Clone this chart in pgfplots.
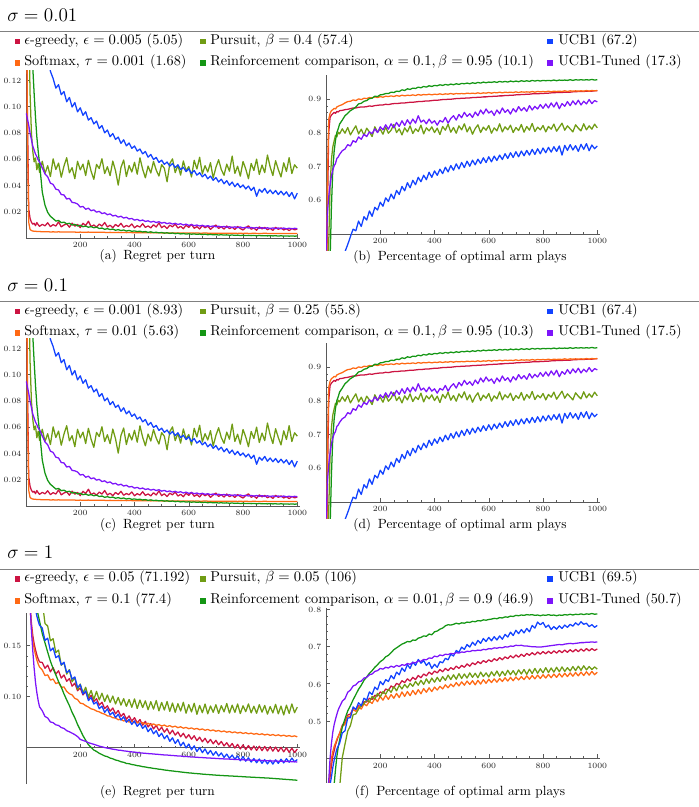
\documentclass[border=0pt]{standalone}
\usepackage{pgfplots}
\usepackage{pgfplotstable}
\pgfplotsset{compat=1.18}

\definecolor{egc}{RGB}{204,20,66}
\definecolor{smc}{RGB}{255,105,20}
\definecolor{puc}{RGB}{112,156,20}
\definecolor{rcc}{RGB}{20,150,20}
\definecolor{uac}{RGB}{18,66,255}
\definecolor{utc}{RGB}{125,20,250}

\pgfplotsset{
  mma/.style={
    scale only axis,
    width=205.5pt,
    axis x line=bottom, axis y line=left,
    axis line style={-, line width=0.5pt, color=black!65},
    xmin=0, xmax=1010,
    xtick={200,400,600,800,1000},
    minor x tick num=3,
    tick align=inside,
    major tick length=3pt, minor tick length=1.6pt,
    tick style={black!65, line width=0.4pt},
    ticklabel style={font=\fontsize{6.5}{7}\selectfont, color=black!85},
    xticklabel style={/pgf/number format/1000 sep={}},
    every axis plot/.append style={line width=0.95pt, line join=round, no marks},
  },
  regret/.style={
    ytick={0.02,0.04,0.06,0.08,0.10,0.12},
    minor y tick num=3,
    ymin=0, ymax=0.128, height=126pt,
    yticklabel style={/pgf/number format/.cd, fixed, fixed zerofill, precision=2},
  },
  optimal/.style={
    ytick={0.6,0.7,0.8,0.9},
    minor y tick num=4,
    ymin=0.452, ymax=0.972, height=131.25pt,
    axis x line shift=-12.1pt,
    yticklabel style={/pgf/number format/.cd, fixed, fixed zerofill, precision=1},
  },
}

% regret per turn, sigma = 0.01 / 0.1
\pgfplotstableread{
x eg sm pu rc ua ut
1 0.30 0.30 0.30 0.30 0.30 0.095
5 0.10 0.08 0.25 0.30 0.30 0.091
10 0.022 0.012 0.17 0.29 0.29 0.086
15 0.015 0.0065 0.11 0.26 0.28 0.080
20 0.012 0.0057 0.080 0.21 0.27 0.075
25 0.0105 0.0053 0.066 0.13 0.26 0.070
30 0.0112 0.0052 0.058 0.11 0.25 0.067
35 0.0094 0.0051 0.061 0.092 0.24 0.064
40 0.0118 0.0050 0.052 0.077 0.23 0.062
45 0.0101 0.0050 0.057 0.066 0.22 0.0595
50 0.0089 0.0049 0.050 0.057 0.21 0.058
60 0.0104 0.0048 0.0585 0.035 0.19 0.0535
70 0.0093 0.0047 0.0492 0.025 0.165 0.0488
80 0.0116 0.0048 0.0551 0.0195 0.142 0.0466
90 0.0087 0.0046 0.0468 0.0165 0.127 0.0418
100 0.0102 0.0047 0.0603 0.0148 0.1215 0.0408
110 0.0091 0.0046 0.0522 0.0129 0.1142 0.0372
120 0.0123 0.0047 0.0571 0.0134 0.1168 0.0366
130 0.0085 0.0046 0.0463 0.0117 0.1092 0.0331
140 0.0099 0.0046 0.0548 0.0121 0.1116 0.0328
150 0.0108 0.0045 0.0612 0.0108 0.1038 0.0297
160 0.0082 0.0046 0.0497 0.0112 0.1071 0.0302
170 0.0113 0.0045 0.0536 0.0099 0.0998 0.0271
180 0.0090 0.0045 0.0452 0.0104 0.1032 0.0268
190 0.0104 0.0044 0.0584 0.0092 0.0961 0.0259
200 0.0079 0.0045 0.0519 0.0097 0.0992 0.0236
210 0.0112 0.0044 0.0563 0.0086 0.0935 0.0241
220 0.0095 0.0044 0.0476 0.0091 0.0962 0.0219
230 0.0128 0.0045 0.0592 0.0082 0.0898 0.0227
240 0.0087 0.0043 0.0508 0.0087 0.0917 0.0208
250 0.0099 0.0044 0.0447 0.0078 0.0869 0.0214
260 0.0083 0.0043 0.0561 0.0083 0.0891 0.0197
270 0.0106 0.0043 0.0529 0.0072 0.0834 0.0203
280 0.0091 0.0044 0.0604 0.0076 0.0857 0.0186
290 0.0118 0.0043 0.0491 0.0066 0.0801 0.0192
300 0.0084 0.0042 0.0543 0.0071 0.0823 0.0177
310 0.0097 0.0043 0.0475 0.0064 0.0772 0.0184
320 0.0079 0.0042 0.0586 0.0068 0.0796 0.0168
330 0.0103 0.0042 0.0512 0.0059 0.0751 0.0173
340 0.0088 0.0043 0.0403 0.0064 0.0769 0.0159
350 0.0112 0.0041 0.0537 0.0057 0.0721 0.0166
360 0.0082 0.0042 0.0594 0.0061 0.0748 0.0152
370 0.0095 0.0041 0.0468 0.0053 0.0702 0.0158
380 0.0086 0.0042 0.0552 0.0058 0.0724 0.0145
390 0.0107 0.0041 0.0503 0.0051 0.0683 0.0149
400 0.0078 0.0040 0.0577 0.0054 0.0701 0.0136
410 0.0094 0.0041 0.0486 0.0049 0.0662 0.0142
420 0.0083 0.0040 0.0611 0.0052 0.0678 0.0131
430 0.0109 0.0041 0.0524 0.0046 0.0641 0.0137
440 0.0081 0.0040 0.0459 0.0049 0.0659 0.0126
450 0.0092 0.0040 0.0548 0.0043 0.0616 0.0131
460 0.0077 0.0039 0.0495 0.0047 0.0637 0.0121
470 0.0101 0.0040 0.0583 0.0041 0.0598 0.0127
480 0.0084 0.0039 0.0517 0.0044 0.0614 0.0118
490 0.0115 0.0040 0.0472 0.0039 0.0576 0.0124
500 0.0079 0.0039 0.0559 0.0042 0.0593 0.0113
510 0.0093 0.0039 0.0531 0.0037 0.0561 0.0119
520 0.0072 0.0038 0.0428 0.0040 0.0579 0.0109
530 0.0098 0.0039 0.0566 0.0035 0.0548 0.0115
540 0.0085 0.0038 0.0603 0.0038 0.0567 0.0106
550 0.0106 0.0039 0.0498 0.0033 0.0536 0.0112
560 0.0076 0.0038 0.0554 0.0036 0.0558 0.0103
570 0.0089 0.0038 0.0479 0.0031 0.0521 0.0109
580 0.0071 0.0038 0.0587 0.0034 0.0539 0.0099
590 0.0097 0.0039 0.0512 0.0030 0.0506 0.0106
600 0.0081 0.0037 0.0545 0.0032 0.0527 0.0096
610 0.0104 0.0038 0.0465 0.0029 0.0492 0.0102
620 0.0074 0.0037 0.0592 0.0031 0.0514 0.0094
630 0.0087 0.0038 0.0526 0.0028 0.0479 0.0099
640 0.0069 0.0037 0.0615 0.0030 0.0498 0.0091
650 0.0095 0.0037 0.0488 0.0026 0.0466 0.0097
660 0.0078 0.0038 0.0551 0.0029 0.0486 0.0089
670 0.0091 0.0037 0.0503 0.0025 0.0451 0.0094
680 0.0066 0.0037 0.0574 0.0028 0.0472 0.0087
690 0.0084 0.0036 0.0457 0.0024 0.0439 0.0092
700 0.0099 0.0037 0.0538 0.0026 0.0461 0.0085
710 0.0073 0.0036 0.0596 0.0023 0.0427 0.0090
720 0.0086 0.0037 0.0521 0.0025 0.0448 0.0083
730 0.0068 0.0036 0.0478 0.0022 0.0413 0.0088
740 0.0092 0.0036 0.0563 0.0024 0.0437 0.0082
750 0.0071 0.0037 0.0509 0.0021 0.0402 0.0086
760 0.0083 0.0036 0.0624 0.0023 0.0426 0.0080
770 0.0065 0.0036 0.0492 0.0020 0.0391 0.0085
780 0.0088 0.0035 0.0547 0.0022 0.0416 0.0079
790 0.0072 0.0036 0.0471 0.0019 0.0385 0.0084
800 0.0061 0.0035 0.0583 0.0021 0.0404 0.0077
810 0.0079 0.0036 0.0526 0.0019 0.0374 0.0082
820 0.0093 0.0035 0.0452 0.0020 0.0396 0.0076
830 0.0067 0.0035 0.0568 0.0018 0.0362 0.0081
840 0.0076 0.0036 0.0515 0.0020 0.0387 0.0075
850 0.0059 0.0035 0.0601 0.0017 0.0318 0.0080
860 0.0085 0.0035 0.0484 0.0019 0.0371 0.0074
870 0.0069 0.0035 0.0556 0.0017 0.0349 0.0079
880 0.0081 0.0036 0.0498 0.0018 0.0378 0.0073
890 0.0063 0.0035 0.0632 0.0016 0.0341 0.0078
900 0.0074 0.0035 0.0541 0.0018 0.0366 0.0072
910 0.0058 0.0034 0.0476 0.0016 0.0337 0.0077
920 0.0082 0.0035 0.0589 0.0017 0.0362 0.0072
930 0.0066 0.0035 0.0522 0.0015 0.0331 0.0076
940 0.0077 0.0034 0.0465 0.0017 0.0357 0.0071
950 0.0061 0.0035 0.0573 0.0015 0.0328 0.0076
960 0.0071 0.0034 0.0507 0.0016 0.0352 0.0070
970 0.0056 0.0035 0.0612 0.0014 0.0316 0.0075
980 0.0073 0.0034 0.0491 0.0016 0.0347 0.0070
990 0.0062 0.0035 0.0558 0.0014 0.0298 0.0074
1000 0.0068 0.0034 0.0532 0.0015 0.0342 0.0071
}\tabA

% share of optimal arm plays, sigma = 0.01 / 0.1
\pgfplotstableread{
x eg sm pu rc ua ut
1 0.20 0.20 0.20 0.10 0.20 0.45
5 0.55 0.65 0.30 0.15 0.25 0.56
10 0.80 0.84 0.47 0.25 0.28 0.61
15 0.846 0.858 0.64 0.42 0.30 0.645
20 0.853 0.866 0.72 0.58 0.32 0.672
25 0.857 0.869 0.758 0.69 0.33 0.689
30 0.861 0.873 0.776 0.745 0.35 0.702
35 0.858 0.871 0.793 0.778 0.36 0.709
40 0.864 0.877 0.788 0.801 0.38 0.724
45 0.862 0.879 0.802 0.812 0.39 0.728
50 0.866 0.881 0.797 0.826 0.41 0.736
60 0.867 0.884 0.812 0.838 0.431 0.747
70 0.869 0.889 0.799 0.851 0.447 0.752
80 0.870 0.893 0.816 0.858 0.468 0.765
90 0.872 0.894 0.794 0.866 0.492 0.761
100 0.874 0.898 0.808 0.871 0.514 0.777
110 0.874 0.896 0.821 0.877 0.509 0.772
120 0.876 0.901 0.797 0.886 0.538 0.788
130 0.877 0.899 0.811 0.888 0.522 0.781
140 0.877 0.903 0.793 0.894 0.551 0.796
150 0.878 0.902 0.814 0.896 0.541 0.789
160 0.880 0.905 0.803 0.902 0.568 0.803
170 0.879 0.904 0.789 0.903 0.552 0.798
180 0.881 0.907 0.818 0.909 0.579 0.812
190 0.882 0.905 0.802 0.908 0.571 0.801
200 0.883 0.908 0.811 0.913 0.594 0.818
210 0.883 0.906 0.796 0.914 0.582 0.809
220 0.885 0.909 0.817 0.917 0.607 0.824
230 0.884 0.908 0.799 0.917 0.596 0.811
240 0.886 0.910 0.808 0.921 0.618 0.827
250 0.887 0.908 0.825 0.920 0.604 0.815
260 0.887 0.911 0.801 0.924 0.629 0.831
270 0.888 0.909 0.812 0.923 0.617 0.819
280 0.889 0.912 0.794 0.928 0.641 0.836
290 0.889 0.910 0.815 0.926 0.628 0.822
300 0.890 0.912 0.803 0.931 0.652 0.839
310 0.891 0.911 0.821 0.929 0.637 0.826
320 0.891 0.913 0.798 0.933 0.659 0.841
330 0.892 0.911 0.812 0.932 0.646 0.829
340 0.893 0.914 0.804 0.936 0.668 0.851
350 0.893 0.912 0.823 0.934 0.655 0.832
360 0.894 0.914 0.797 0.938 0.674 0.838
370 0.895 0.913 0.815 0.936 0.661 0.827
380 0.895 0.915 0.806 0.940 0.683 0.841
390 0.896 0.913 0.818 0.938 0.668 0.829
400 0.897 0.915 0.801 0.941 0.687 0.836
410 0.897 0.914 0.814 0.940 0.674 0.823
420 0.898 0.916 0.795 0.943 0.692 0.837
430 0.899 0.914 0.819 0.941 0.679 0.832
440 0.899 0.916 0.808 0.944 0.698 0.846
450 0.900 0.915 0.826 0.942 0.684 0.829
460 0.900 0.917 0.802 0.945 0.703 0.843
470 0.901 0.915 0.816 0.943 0.689 0.851
480 0.902 0.917 0.799 0.946 0.708 0.838
490 0.902 0.916 0.821 0.944 0.693 0.855
500 0.903 0.917 0.809 0.947 0.712 0.845
510 0.903 0.916 0.827 0.946 0.697 0.861
520 0.904 0.918 0.803 0.948 0.716 0.849
530 0.904 0.917 0.818 0.946 0.701 0.857
540 0.905 0.918 0.796 0.949 0.719 0.846
550 0.905 0.917 0.813 0.947 0.705 0.862
560 0.906 0.919 0.824 0.950 0.722 0.851
570 0.906 0.917 0.801 0.948 0.709 0.868
580 0.907 0.919 0.817 0.951 0.726 0.856
590 0.907 0.918 0.808 0.949 0.712 0.871
600 0.908 0.920 0.822 0.951 0.729 0.859
610 0.908 0.918 0.799 0.950 0.714 0.865
620 0.909 0.920 0.815 0.952 0.731 0.852
630 0.909 0.919 0.806 0.950 0.718 0.868
640 0.910 0.921 0.827 0.953 0.734 0.857
650 0.910 0.919 0.803 0.951 0.721 0.874
660 0.911 0.921 0.818 0.953 0.738 0.861
670 0.911 0.920 0.809 0.951 0.724 0.869
680 0.912 0.921 0.823 0.954 0.741 0.856
690 0.912 0.920 0.801 0.952 0.727 0.872
700 0.913 0.922 0.816 0.954 0.744 0.862
710 0.913 0.920 0.807 0.952 0.729 0.878
720 0.914 0.922 0.825 0.955 0.746 0.866
730 0.914 0.921 0.802 0.953 0.732 0.875
740 0.915 0.922 0.819 0.955 0.748 0.864
750 0.915 0.921 0.808 0.953 0.734 0.881
760 0.916 0.923 0.828 0.956 0.751 0.868
770 0.916 0.921 0.804 0.954 0.736 0.879
780 0.916 0.923 0.817 0.956 0.753 0.871
790 0.917 0.922 0.809 0.954 0.738 0.884
800 0.917 0.923 0.822 0.956 0.755 0.873
810 0.918 0.922 0.803 0.955 0.741 0.886
820 0.918 0.924 0.819 0.956 0.757 0.874
830 0.919 0.922 0.811 0.955 0.743 0.889
840 0.919 0.924 0.826 0.957 0.759 0.877
850 0.920 0.923 0.805 0.955 0.745 0.891
860 0.920 0.924 0.817 0.957 0.761 0.872
870 0.920 0.923 0.829 0.956 0.734 0.887
880 0.921 0.925 0.808 0.957 0.763 0.879
890 0.921 0.923 0.821 0.956 0.748 0.893
900 0.921 0.925 0.812 0.958 0.765 0.881
910 0.922 0.924 0.803 0.956 0.749 0.895
920 0.922 0.925 0.824 0.958 0.762 0.884
930 0.923 0.924 0.814 0.957 0.745 0.897
940 0.923 0.925 0.806 0.958 0.766 0.883
950 0.923 0.924 0.827 0.957 0.751 0.894
960 0.924 0.926 0.809 0.958 0.768 0.886
970 0.924 0.924 0.821 0.957 0.747 0.899
980 0.924 0.926 0.811 0.959 0.764 0.887
990 0.925 0.925 0.826 0.957 0.753 0.896
1000 0.925 0.926 0.815 0.958 0.761 0.892
}\tabB

% regret per turn, sigma = 1
\pgfplotstableread{
x eg sm pu rc ua ut
1 0.40 0.40 0.40 0.40 0.40 0.40
5 0.30 0.30 0.36 0.36 0.34 0.30
10 0.23 0.23 0.33 0.31 0.30 0.23
15 0.19 0.188 0.30 0.27 0.26 0.19
20 0.172 0.168 0.28 0.245 0.23 0.165
25 0.160 0.155 0.265 0.225 0.21 0.145
30 0.152 0.147 0.25 0.21 0.195 0.128
35 0.146 0.141 0.237 0.195 0.186 0.114
40 0.141 0.136 0.225 0.186 0.179 0.104
45 0.137 0.132 0.214 0.180 0.174 0.096
50 0.134 0.129 0.205 0.174 0.170 0.090
60 0.1335 0.1262 0.1934 0.1617 0.1672 0.0862
70 0.1278 0.1207 0.1718 0.1528 0.1551 0.0806
80 0.1309 0.1214 0.1692 0.1436 0.1574 0.0791
90 0.1243 0.1162 0.1547 0.1348 0.1449 0.0752
100 0.1286 0.1173 0.1568 0.1275 0.1478 0.0745
110 0.1221 0.1128 0.1432 0.1213 0.1382 0.0724
120 0.1254 0.1139 0.1457 0.1148 0.1401 0.0718
130 0.1182 0.1091 0.1308 0.1094 0.1312 0.0697
140 0.1213 0.1096 0.1334 0.1027 0.1338 0.0689
150 0.1151 0.1052 0.1221 0.0968 0.1236 0.0667
160 0.1177 0.1029 0.1265 0.0912 0.1259 0.0656
170 0.1103 0.1017 0.1146 0.0846 0.1172 0.0642
180 0.1132 0.0983 0.1187 0.0793 0.1194 0.0628
190 0.1058 0.0972 0.1069 0.0728 0.1091 0.0609
200 0.1084 0.0936 0.1124 0.0674 0.1118 0.0581
210 0.1017 0.0931 0.1038 0.0618 0.1026 0.0571
220 0.1049 0.0912 0.1092 0.0573 0.1057 0.0562
230 0.0978 0.0898 0.0997 0.0529 0.0962 0.0549
240 0.1013 0.0881 0.1061 0.0502 0.0991 0.0541
250 0.0952 0.0874 0.0973 0.0477 0.0928 0.0533
260 0.0981 0.0859 0.1052 0.0463 0.0949 0.0524
270 0.0917 0.0851 0.0968 0.0445 0.0882 0.0515
280 0.0946 0.0837 0.1034 0.0432 0.0907 0.0509
290 0.0883 0.0829 0.0952 0.0419 0.0846 0.0501
300 0.0911 0.0812 0.1017 0.0412 0.0881 0.0496
310 0.0857 0.0809 0.0944 0.0398 0.0821 0.0491
320 0.0889 0.0793 0.1006 0.0391 0.0847 0.0485
330 0.0832 0.0791 0.0928 0.0379 0.0794 0.0482
340 0.0864 0.0774 0.0993 0.0373 0.0828 0.0476
350 0.0808 0.0779 0.0917 0.0362 0.0771 0.0474
360 0.0836 0.0762 0.0981 0.0357 0.0803 0.0469
370 0.0779 0.0768 0.0905 0.0346 0.0749 0.0466
380 0.0812 0.0751 0.0972 0.0343 0.0779 0.0462
390 0.0761 0.0759 0.0896 0.0335 0.0728 0.0459
400 0.0794 0.0744 0.0978 0.0331 0.0763 0.0456
410 0.0742 0.0751 0.0884 0.0324 0.0709 0.0453
420 0.0776 0.0738 0.0967 0.0321 0.0741 0.0449
430 0.0721 0.0746 0.0893 0.0314 0.0689 0.0447
440 0.0758 0.0731 0.0959 0.0311 0.0718 0.0445
450 0.0703 0.0739 0.0872 0.0305 0.0657 0.0442
460 0.0737 0.0724 0.0951 0.0302 0.0691 0.0441
470 0.0684 0.0733 0.0878 0.0297 0.0636 0.0438
480 0.0719 0.0718 0.0962 0.0294 0.0667 0.0436
490 0.0668 0.0727 0.0861 0.0289 0.0609 0.0434
500 0.0701 0.0712 0.0944 0.0287 0.0642 0.0431
510 0.0652 0.0722 0.0869 0.0281 0.0587 0.0429
520 0.0686 0.0707 0.0953 0.0279 0.0621 0.0428
530 0.0634 0.0716 0.0856 0.0274 0.0562 0.0425
540 0.0671 0.0702 0.0938 0.0272 0.0597 0.0424
550 0.0623 0.0711 0.0847 0.0268 0.0541 0.0421
560 0.0654 0.0696 0.0931 0.0266 0.0579 0.0419
570 0.0607 0.0705 0.0859 0.0262 0.0517 0.0418
580 0.0641 0.0691 0.0945 0.0259 0.0553 0.0415
590 0.0594 0.0699 0.0838 0.0256 0.0498 0.0414
600 0.0628 0.0686 0.0922 0.0253 0.0536 0.0411
610 0.0583 0.0694 0.0851 0.0251 0.0479 0.0409
620 0.0617 0.0681 0.0936 0.0248 0.0518 0.0408
630 0.0569 0.0689 0.0827 0.0246 0.0462 0.0406
640 0.0603 0.0676 0.0914 0.0244 0.0502 0.0404
650 0.0558 0.0684 0.0843 0.0241 0.0451 0.0403
660 0.0592 0.0671 0.0928 0.0239 0.0488 0.0401
670 0.0547 0.0679 0.0832 0.0237 0.0437 0.0399
680 0.0581 0.0666 0.0909 0.0235 0.0473 0.0398
690 0.0538 0.0674 0.0847 0.0233 0.0426 0.0396
700 0.0572 0.0661 0.0921 0.0231 0.0461 0.0395
710 0.0529 0.0669 0.0836 0.0229 0.0418 0.0393
720 0.0561 0.0656 0.0912 0.0228 0.0449 0.0392
730 0.0517 0.0664 0.0851 0.0226 0.0405 0.0390
740 0.0549 0.0652 0.0933 0.0225 0.0437 0.0389
750 0.0508 0.0659 0.0839 0.0223 0.0396 0.0388
760 0.0541 0.0647 0.0917 0.0222 0.0428 0.0386
770 0.0496 0.0655 0.0846 0.0220 0.0387 0.0385
780 0.0533 0.0643 0.0928 0.0219 0.0419 0.0384
790 0.0488 0.0651 0.0834 0.0217 0.0372 0.0382
800 0.0527 0.0639 0.0911 0.0216 0.0413 0.0381
810 0.0482 0.0647 0.0853 0.0214 0.0368 0.0380
820 0.0521 0.0636 0.0929 0.0213 0.0401 0.0379
830 0.0478 0.0643 0.0841 0.0211 0.0359 0.0378
840 0.0516 0.0632 0.0906 0.0210 0.0394 0.0377
850 0.0473 0.0639 0.0837 0.0208 0.0352 0.0376
860 0.0514 0.0628 0.0922 0.0207 0.0389 0.0375
870 0.0471 0.0636 0.0848 0.0205 0.0347 0.0374
880 0.0512 0.0625 0.0914 0.0204 0.0383 0.0373
890 0.0468 0.0632 0.0829 0.0203 0.0341 0.0372
900 0.0509 0.0621 0.0903 0.0201 0.0378 0.0371
910 0.0466 0.0629 0.0841 0.0199 0.0339 0.0370
920 0.0506 0.0618 0.0925 0.0197 0.0381 0.0369
930 0.0462 0.0626 0.0832 0.0195 0.0346 0.0368
940 0.0503 0.0615 0.0908 0.0193 0.0387 0.0367
950 0.0459 0.0623 0.0821 0.0191 0.0351 0.0366
960 0.0499 0.0612 0.0917 0.0189 0.0392 0.0365
970 0.0455 0.0619 0.0836 0.0187 0.0357 0.0364
980 0.0496 0.0609 0.0929 0.0185 0.0398 0.0363
990 0.0452 0.0616 0.0843 0.0183 0.0362 0.0362
1000 0.0487 0.0606 0.0898 0.0181 0.0384 0.0360
}\tabE

% share of optimal arm plays, sigma = 1
\pgfplotstableread{
x eg sm pu rc ua ut
1 0.20 0.20 0.20 0.10 0.20 0.28
5 0.25 0.27 0.20 0.12 0.23 0.30
10 0.32 0.33 0.22 0.15 0.28 0.34
15 0.35 0.37 0.24 0.18 0.33 0.40
20 0.38 0.40 0.25 0.22 0.35 0.44
25 0.405 0.418 0.26 0.28 0.375 0.47
30 0.42 0.432 0.27 0.33 0.395 0.49
35 0.436 0.441 0.275 0.37 0.41 0.505
40 0.447 0.452 0.28 0.405 0.425 0.518
45 0.458 0.459 0.30 0.43 0.433 0.530
50 0.467 0.466 0.32 0.449 0.44 0.538
60 0.489 0.486 0.402 0.483 0.468 0.553
70 0.497 0.491 0.438 0.506 0.474 0.560
80 0.516 0.512 0.473 0.527 0.508 0.577
90 0.519 0.513 0.488 0.541 0.509 0.583
100 0.534 0.531 0.517 0.557 0.538 0.594
110 0.532 0.526 0.519 0.571 0.531 0.597
120 0.541 0.538 0.532 0.585 0.549 0.605
130 0.539 0.532 0.541 0.596 0.541 0.607
140 0.552 0.546 0.546 0.609 0.561 0.615
150 0.551 0.541 0.557 0.618 0.556 0.617
160 0.561 0.553 0.551 0.628 0.578 0.624
170 0.558 0.547 0.566 0.635 0.571 0.626
180 0.569 0.561 0.559 0.644 0.591 0.633
190 0.567 0.552 0.574 0.651 0.584 0.635
200 0.578 0.566 0.565 0.659 0.606 0.641
210 0.574 0.556 0.579 0.664 0.597 0.639
220 0.586 0.569 0.572 0.672 0.611 0.644
230 0.582 0.558 0.585 0.676 0.606 0.642
240 0.594 0.571 0.577 0.683 0.622 0.647
250 0.589 0.561 0.592 0.691 0.613 0.644
260 0.601 0.574 0.581 0.696 0.631 0.649
270 0.597 0.563 0.596 0.701 0.624 0.646
280 0.608 0.578 0.586 0.706 0.642 0.651
290 0.603 0.566 0.598 0.709 0.633 0.649
300 0.613 0.579 0.589 0.713 0.651 0.654
310 0.607 0.568 0.601 0.712 0.641 0.652
320 0.617 0.582 0.593 0.717 0.658 0.657
330 0.611 0.571 0.606 0.716 0.649 0.656
340 0.622 0.584 0.596 0.722 0.665 0.661
350 0.616 0.573 0.609 0.724 0.655 0.660
360 0.626 0.587 0.598 0.728 0.662 0.665
370 0.621 0.577 0.613 0.727 0.649 0.664
380 0.631 0.589 0.601 0.733 0.657 0.669
390 0.625 0.579 0.615 0.731 0.641 0.668
400 0.634 0.591 0.604 0.739 0.652 0.674
410 0.629 0.583 0.617 0.741 0.644 0.672
420 0.638 0.593 0.606 0.746 0.659 0.677
430 0.632 0.586 0.619 0.749 0.656 0.675
440 0.641 0.597 0.609 0.755 0.668 0.679
450 0.635 0.589 0.623 0.758 0.664 0.678
460 0.643 0.599 0.611 0.757 0.679 0.681
470 0.638 0.592 0.624 0.759 0.674 0.680
480 0.647 0.603 0.612 0.762 0.689 0.683
490 0.641 0.594 0.627 0.760 0.684 0.682
500 0.649 0.605 0.614 0.763 0.698 0.685
510 0.644 0.596 0.626 0.762 0.692 0.684
520 0.653 0.607 0.615 0.765 0.705 0.687
530 0.647 0.598 0.629 0.764 0.698 0.686
540 0.656 0.608 0.617 0.767 0.711 0.689
550 0.651 0.597 0.628 0.766 0.703 0.688
560 0.659 0.609 0.616 0.769 0.716 0.690
570 0.654 0.599 0.631 0.768 0.708 0.689
580 0.662 0.611 0.619 0.771 0.721 0.692
590 0.657 0.601 0.629 0.770 0.713 0.691
600 0.664 0.612 0.618 0.772 0.724 0.694
610 0.659 0.603 0.632 0.773 0.715 0.693
620 0.667 0.613 0.621 0.775 0.726 0.696
630 0.662 0.604 0.634 0.774 0.717 0.695
640 0.670 0.614 0.620 0.777 0.728 0.697
650 0.664 0.606 0.633 0.776 0.719 0.696
660 0.672 0.616 0.622 0.779 0.732 0.699
670 0.667 0.607 0.636 0.778 0.725 0.698
680 0.675 0.617 0.624 0.781 0.738 0.701
690 0.669 0.608 0.635 0.780 0.729 0.700
700 0.677 0.618 0.623 0.783 0.743 0.703
710 0.671 0.610 0.637 0.782 0.734 0.702
720 0.679 0.619 0.626 0.784 0.745 0.703
730 0.673 0.611 0.638 0.783 0.736 0.701
740 0.681 0.621 0.625 0.785 0.748 0.701
750 0.676 0.612 0.639 0.784 0.739 0.700
760 0.683 0.622 0.627 0.785 0.756 0.699
770 0.677 0.613 0.641 0.783 0.749 0.699
780 0.685 0.623 0.628 0.784 0.765 0.698
790 0.679 0.614 0.640 0.782 0.758 0.698
800 0.686 0.624 0.629 0.784 0.764 0.699
810 0.680 0.615 0.643 0.783 0.751 0.700
820 0.687 0.625 0.630 0.785 0.757 0.701
830 0.681 0.616 0.642 0.783 0.745 0.702
840 0.688 0.626 0.631 0.784 0.753 0.703
850 0.682 0.617 0.644 0.782 0.746 0.704
860 0.689 0.627 0.632 0.784 0.755 0.705
870 0.683 0.618 0.645 0.783 0.748 0.704
880 0.690 0.628 0.633 0.785 0.757 0.706
890 0.684 0.619 0.643 0.784 0.751 0.707
900 0.691 0.629 0.634 0.786 0.759 0.708
910 0.685 0.620 0.646 0.784 0.754 0.707
920 0.692 0.630 0.635 0.786 0.763 0.708
930 0.686 0.621 0.647 0.785 0.757 0.709
940 0.693 0.631 0.636 0.787 0.766 0.710
950 0.687 0.622 0.648 0.785 0.759 0.710
960 0.694 0.632 0.637 0.787 0.762 0.711
970 0.688 0.623 0.646 0.786 0.753 0.711
980 0.694 0.633 0.638 0.788 0.758 0.712
990 0.689 0.624 0.645 0.786 0.751 0.711
1000 0.693 0.631 0.639 0.787 0.756 0.712
}\tabF

% section heading: title, rule and the six-entry key
\newcommand\KeyFont{\fontsize{10.7}{13}\selectfont}
\newcommand\SectionHead[7]{%
  \node[anchor=base west, inner sep=0pt] at (5.25pt,-15.75pt) {\Large$\sigma = #1$};
  \draw[black!50, line width=0.8pt] (0pt,-23.5pt) -- (524.25pt,-23.5pt);
  \fill[egc] (11pt,-33.3pt) rectangle ++(4.3pt,4.3pt);
  \node[anchor=base west, inner sep=0pt] at (18pt,-33pt) {\KeyFont #2};
  \fill[smc] (11pt,-49.4pt) rectangle ++(4.3pt,4.3pt);
  \node[anchor=base west, inner sep=0pt] at (18pt,-49.1pt) {\KeyFont #3};
  \fill[puc] (150pt,-33.3pt) rectangle ++(4.3pt,4.3pt);
  \node[anchor=base west, inner sep=0pt] at (157.5pt,-33pt) {\KeyFont #4};
  \fill[rcc] (150pt,-49.4pt) rectangle ++(4.3pt,4.3pt);
  \node[anchor=base west, inner sep=0pt] at (157.5pt,-49.1pt) {\KeyFont #5};
  \fill[uac] (410.25pt,-33.3pt) rectangle ++(4.3pt,4.3pt);
  \node[anchor=base west, inner sep=0pt] at (418.5pt,-33pt) {\KeyFont #6};
  \fill[utc] (410.25pt,-49.4pt) rectangle ++(4.3pt,4.3pt);
  \node[anchor=base west, inner sep=0pt] at (418.5pt,-49.1pt) {\KeyFont #7};
}

\newcommand\AllSeries[1]{%
  \addplot[egc] table[x=x,y=eg]{#1};
  \addplot[smc] table[x=x,y=sm]{#1};
  \addplot[puc] table[x=x,y=pu]{#1};
  \addplot[rcc] table[x=x,y=rc]{#1};
  \addplot[uac] table[x=x,y=ua]{#1};
  \addplot[utc] table[x=x,y=ut]{#1};
}

\begin{document}
\begin{tikzpicture}
\useasboundingbox (0,0) rectangle (524.25pt,-605.25pt);

% ---------- sigma = 0.01 ----------
\SectionHead{0.01}%
  {$\epsilon$-greedy, $\epsilon = 0.005$ (5.05)}%
  {Softmax, $\tau = 0.001$ (1.68)}%
  {Pursuit, $\beta = 0.4$ (57.4)}%
  {Reinforcement comparison, $\alpha = 0.1, \beta = 0.95$ (10.1)}%
  {UCB1 (67.2)}%
  {UCB1-Tuned (17.3)}
\begin{axis}[mma, regret, at={(19.5pt,-178.5pt)}, anchor=south west]
  \AllSeries{\tabA}
\end{axis}
\begin{axis}[mma, optimal, at={(244.5pt,-187.5pt)}, anchor=south west]
  \AllSeries{\tabB}
\end{axis}
\node[anchor=base, inner sep=0pt] at (118.1pt,-194.6pt) {(a)\enspace Regret per turn};
\node[anchor=base, inner sep=0pt] at (345pt,-195pt) {(b)\enspace Percentage of optimal arm plays};

% ---------- sigma = 0.1 ----------
\begin{scope}[yshift=-202.5pt]
\SectionHead{0.1}%
  {$\epsilon$-greedy, $\epsilon = 0.001$ (8.93)}%
  {Softmax, $\tau = 0.01$ (5.63)}%
  {Pursuit, $\beta = 0.25$ (55.8)}%
  {Reinforcement comparison, $\alpha = 0.1, \beta = 0.95$ (10.3)}%
  {UCB1 (67.4)}%
  {UCB1-Tuned (17.5)}
\end{scope}
\begin{axis}[mma, regret, at={(19.5pt,-379.5pt)}, anchor=south west]
  \AllSeries{\tabA}
\end{axis}
\begin{axis}[mma, optimal, at={(244.5pt,-388.5pt)}, anchor=south west]
  \AllSeries{\tabB}
\end{axis}
\node[anchor=base, inner sep=0pt] at (118.1pt,-396.1pt) {(c)\enspace Regret per turn};
\node[anchor=base, inner sep=0pt] at (345pt,-396.5pt) {(d)\enspace Percentage of optimal arm plays};

% ---------- sigma = 1 ----------
\begin{scope}[yshift=-403.3pt]
\SectionHead{1}%
  {$\epsilon$-greedy, $\epsilon = 0.05$ (71.192)}%
  {Softmax, $\tau = 0.1$ (77.4)}%
  {Pursuit, $\beta = 0.05$ (106)}%
  {Reinforcement comparison, $\alpha = 0.01, \beta = 0.9$ (46.9)}%
  {UCB1 (69.5)}%
  {UCB1-Tuned (50.7)}
\end{scope}
\begin{axis}[mma, at={(19.5pt,-588pt)}, anchor=south west,
    ymin=0.0144, ymax=0.182, height=128.25pt,
    ytick={0.10,0.15}, minor y tick num=4,
    axis x line shift=-27.2pt,
    yticklabel style={/pgf/number format/.cd, fixed, fixed zerofill, precision=2}]
  \AllSeries{\tabE}
\end{axis}
\begin{axis}[mma, at={(244.5pt,-587pt)}, anchor=south west,
    ymin=0.335, ymax=0.802, height=130.8pt,
    ytick={0.5,0.6,0.7,0.8}, minor y tick num=4,
    axis x line shift=-18.3pt,
    yticklabel style={yshift=-0.6pt, /pgf/number format/.cd, fixed, fixed zerofill, precision=1}]
  \AllSeries{\tabF}
\end{axis}
\node[anchor=base, inner sep=0pt] at (118.1pt,-596.25pt) {(e)\enspace Regret per turn};
\node[anchor=base, inner sep=0pt] at (345pt,-596.25pt) {(f)\enspace Percentage of optimal arm plays};
\end{tikzpicture}
\end{document}
